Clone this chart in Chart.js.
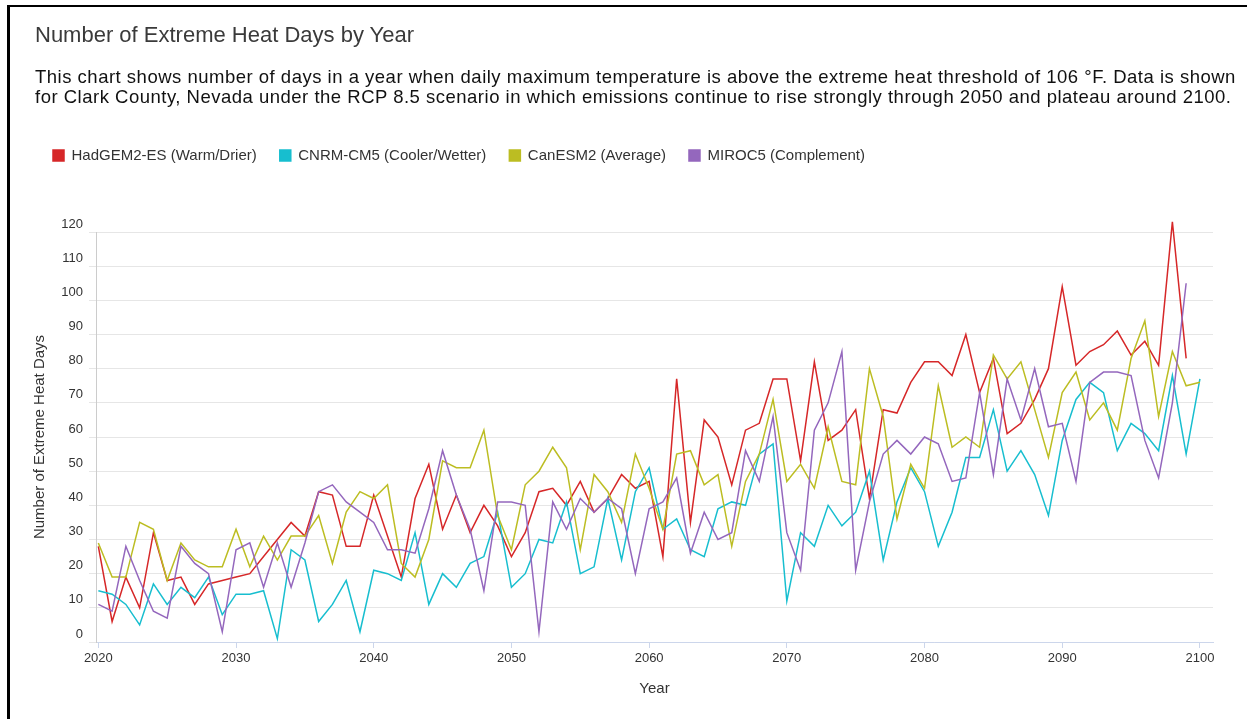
<!DOCTYPE html>
<html>
<head>
<meta charset="utf-8">
<title>Number of Extreme Heat Days by Year</title>
<script src="https://cdn.jsdelivr.net/npm/chart.js@4.4.1/dist/chart.umd.min.js"></script>
<style>
  html, body { margin: 0; padding: 0; background: #fff; overflow: hidden; }
  body { width: 1247px; height: 719px; position: relative; font-family: "Liberation Sans", Arial, Helvetica, sans-serif; }
  #frame { position: absolute; left: 7px; top: 5px; width: 1300px; height: 800px; border-left: 3px solid #000; border-top: 2px solid #000; }
  #title { position: absolute; left: 35px; top: 23px; margin: 0; font-size: 22px; font-weight: normal; line-height: 24px; color: #3a3a3a; white-space: nowrap; }
  #desc { position: absolute; left: 35px; top: 67px; margin: 0; font-size: 18.5px; letter-spacing: 0.5px; line-height: 20px; color: #111; white-space: nowrap; }
  #wrap { position: absolute; left: 0; top: 0; width: 1247px; height: 719px; }
</style>
</head>
<body>
<div id="frame"></div>
<div id="wrap"><canvas id="chart" width="1247" height="719"></canvas></div>
<h1 id="title">Number of Extreme Heat Days by Year</h1>
<p id="desc">This chart shows number of days in a year when daily maximum temperature is above the extreme heat threshold of 106 °F. Data is shown<br>for Clark County, Nevada under the RCP 8.5 scenario in which emissions continue to rise strongly through 2050 and plateau around 2100.</p>
<script>
// Years on the horizontal axis (2020 through 2100)
const years = Array.from({ length: 81 }, (_, i) => 2020 + i);

// Extreme heat days per year, one array per climate model (RCP 8.5)
const hadgem2es = [
  28, 6, 19, 10, 32, 18, 19, 11, 17, 18,
  19, 20, 25, 30, 35, 31, 44, 43, 28, 28,
  43, 31, 19, 42, 52, 33, 43, 32, 40, 34,
  25, 32, 44, 45, 40, 47, 38, 42, 49, 45,
  47, 25, 77, 35, 65, 60, 46, 62, 64, 77,
  77, 53, 82, 59, 62, 68, 42, 68, 67, 76,
  82, 82, 78, 90, 73, 83, 61, 64, 71, 80,
  104, 81, 85, 87, 91, 84, 88, 81, 123, 83
];
const cnrmCm5 = [
  15, 14, 11, 5, 17, 11, 16, 13, 19, 8,
  14, 14, 15, 1, 27, 24, 6, 11, 18, 3,
  21, 20, 18, 32, 11, 20, 16, 23, 25, 38,
  16, 20, 30, 29, 41, 20, 22, 42, 24, 44,
  51, 33, 36, 27, 25, 39, 41, 40, 55, 58,
  12, 32, 28, 40, 34, 38, 50, 24, 41, 51,
  44, 28, 38, 54, 54, 68, 50, 56, 49, 37,
  59, 71, 76, 73, 56, 64, 61, 56, 78, 55,
  77
];
const canEsm2 = [
  29, 19, 19, 35, 33, 18, 29, 24, 22, 22,
  33, 22, 31, 24, 31, 31, 37, 23, 38, 44,
  42, 46, 23, 19, 30, 53, 51, 51, 62, 37,
  27, 46, 50, 57, 51, 27, 49, 44, 35, 55,
  45, 33, 55, 56, 46, 49, 28, 47, 55, 71,
  47, 52, 45, 63, 47, 46, 80, 66, 36, 52,
  45, 75, 57, 60, 57, 84, 77, 82, 68, 54,
  73, 79, 65, 70, 62, 83, 94, 66, 85, 75,
  76
];
const miroc5 = [
  11, 9, 28, 18, 9, 7, 28, 23, 20, 3,
  27, 29, 16, 29, 16, 29, 44, 46, 41, 38,
  35, 27, 27, 26, 39, 56, 43, 33, 15, 41,
  41, 40, 3, 41, 33, 42, 38, 42, 39, 20,
  39, 41, 48, 26, 38, 30, 32, 56, 47, 66,
  32, 21, 62, 70, 85, 21, 41, 55, 59, 55,
  60, 58, 47, 48, 73, 49, 77, 65, 80, 63,
  64, 47, 76, 79, 79, 78, 59, 48, 70, 105
];

const seriesNames = [
  'HadGEM2-ES (Warm/Drier)',
  'CNRM-CM5 (Cooler/Wetter)',
  'CanESM2 (Average)',
  'MIROC5 (Complement)'
];
const seriesValues = [hadgem2es, cnrmCm5, canEsm2, miroc5];
const seriesColors = ['#d62728', '#17becf', '#bcbd22', '#9467bd'];

// Axis ticks
const xTickYears = [2020, 2030, 2040, 2050, 2060, 2070, 2080, 2090, 2100];
const yMin = 0, yMax = 120, yStep = 10;

const FONT = '"Liberation Sans", Arial, Helvetica, sans-serif';

const datasets = seriesNames.map((name, s) => ({
  label: name,
  data: seriesValues[s].map((v, i) => ({ x: years[i], y: v })),
  borderColor: seriesColors[s],
  backgroundColor: seriesColors[s],
  borderWidth: 1.5,
  pointRadius: 0,
  tension: 0,
  clip: false,
  order: seriesNames.length - s
}));

// Leaves room between the legend row and the plot
const legendSpacing = {
  id: 'legendSpacing',
  beforeInit(chart) {
    const fit = chart.legend.fit;
    chart.legend.fit = function () {
      fit.call(this);
      this.height = 107;
    };
  }
};

new Chart(document.getElementById('chart'), {
  type: 'line',
  data: { datasets },
  plugins: [legendSpacing],
  options: {
    responsive: false,
    animation: false,
    devicePixelRatio: 1,
    layout: { padding: { left: 30, right: 34, top: 125, bottom: 17 } },
    plugins: {
      legend: {
        position: 'top',
        align: 'start',
        labels: {
          boxWidth: 11,
          boxHeight: 11,
          padding: 23,
          color: '#333',
          font: { size: 15, family: FONT },
          sort: (a, b) => a.datasetIndex - b.datasetIndex
        }
      },
      tooltip: { enabled: false }
    },
    scales: {
      x: {
        type: 'linear',
        min: 2019.83,
        max: 2100.95,
        afterBuildTicks: (scale) => { scale.ticks = xTickYears.map(v => ({ value: v })); },
        afterFit: (scale) => { scale.height = 60; scale.paddingLeft = 0; scale.paddingRight = 0; },
        grid: { drawOnChartArea: false, drawTicks: true, tickLength: 6, color: '#ccd6eb' },
        border: { display: true, color: '#ccd6eb', width: 1 },
        ticks: {
          color: '#333',
          padding: 3,
          autoSkip: false,
          maxRotation: 0,
          font: { size: 13, family: FONT },
          callback: (v) => String(v)
        },
        title: {
          display: true,
          text: 'Year',
          color: '#333',
          font: { size: 15, family: FONT },
          padding: { top: 0, bottom: 4 }
        }
      },
      y: {
        min: yMin,
        max: yMax,
        afterFit: (scale) => { scale.width = 66; scale.paddingTop = 0; scale.paddingBottom = 0; },
        grid: { color: '#e6e6e6', drawTicks: true, tickLength: 7 },
        border: { display: true, color: '#cccccc', width: 1 },
        ticks: {
          stepSize: yStep,
          color: '#333',
          padding: 6,
          labelOffset: -8,
          font: { size: 13, family: FONT }
        },
        title: {
          display: true,
          text: 'Number of Extreme Heat Days',
          color: '#333',
          font: { size: 15, family: FONT },
          padding: { top: 1, bottom: 0 }
        }
      }
    }
  }
});
</script>
</body>
</html>
